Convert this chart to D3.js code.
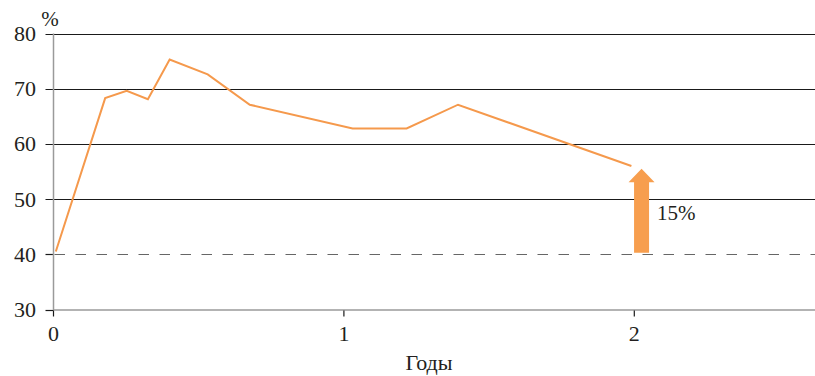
<!DOCTYPE html>
<html>
<head>
<meta charset="utf-8">
<script src="https://cdn.jsdelivr.net/npm/d3@7"></script>
<style>
  body { margin: 0; background: #fff; }
  svg { display: block; }
  svg text { font-family: "Liberation Serif", serif; fill: #231f20; }
</style>
</head>
<body>
<svg id="chart" width="815" height="376"></svg>
<script>
// Data
const years  = [0.008, 0.178, 0.252, 0.325, 0.400, 0.531, 0.676, 1.03, 1.216, 1.393, 1.99];
const values = [40.5, 68.3, 69.6, 68.1, 75.3, 72.6, 67.1, 62.8, 62.8, 67.1, 56.0];
const yTicks = [30, 40, 50, 60, 70, 80];
const xTicks = [0, 1, 2];
const baseline = 40;
const arrowX = 2.025;
const arrowFrom = 40.3;
const arrowTo = 55.5;
const arrowLabel = "15%";
const xTitle = "Годы";
const yTitle = "%";

(function () {
const svg = d3.select("#chart");
const mLeft = 53.5, mTop = 33.5, mBottom = 309.5, mRight = 815;
const x = d3.scaleLinear().domain([0, 2]).range([mLeft, 634.3]);
const y = d3.scaleLinear().domain([30, 80]).range([mBottom, mTop]);

svg.append("g").selectAll("line")
  .data(yTicks.filter(d => d !== 30 && d !== baseline))
  .join("line")
  .attr("x1", 45.5).attr("x2", mRight)
  .attr("y1", d => Math.round(y(d)) + 0.5).attr("y2", d => Math.round(y(d)) + 0.5)
  .attr("stroke", "#1a1a1a").attr("stroke-width", 1.2);

svg.append("g").selectAll("line")
  .data([30, baseline])
  .join("line")
  .attr("x1", 45.5).attr("x2", mLeft)
  .attr("y1", d => Math.round(y(d)) + 0.5).attr("y2", d => Math.round(y(d)) + 0.5)
  .attr("stroke", "#1a1a1a").attr("stroke-width", 1.2);

svg.append("line")
  .attr("x1", mLeft + 1).attr("x2", mRight)
  .attr("y1", Math.round(y(baseline)) + 0.5).attr("y2", Math.round(y(baseline)) + 0.5)
  .attr("stroke", "#666").attr("stroke-width", 1.2)
  .attr("stroke-dasharray", "10.5,10.5");

svg.append("line")
  .attr("x1", mLeft).attr("x2", mLeft)
  .attr("y1", mTop).attr("y2", mBottom + 0.5)
  .attr("stroke", "#9a9a9a").attr("stroke-width", 1.5);

svg.append("line")
  .attr("x1", mLeft).attr("x2", mRight)
  .attr("y1", mBottom + 0.5).attr("y2", mBottom + 0.5)
  .attr("stroke", "#9a9a9a").attr("stroke-width", 1.5);

svg.append("g").selectAll("line")
  .data(xTicks).join("line")
  .attr("x1", d => x(d)).attr("x2", d => x(d))
  .attr("y1", mBottom + 1).attr("y2", mBottom + 7)
  .attr("stroke", "#1a1a1a").attr("stroke-width", 1.2);

svg.append("g").selectAll("text")
  .data(yTicks).join("text")
  .attr("x", 36).attr("y", d => y(d) + 7.5)
  .attr("text-anchor", "end")
  .attr("font-size", 22)
  .text(d => d);

svg.append("g").selectAll("text")
  .data(xTicks).join("text")
  .attr("x", d => x(d)).attr("y", 340.5)
  .attr("text-anchor", "middle")
  .attr("font-size", 22)
  .text(d => d);

svg.append("text").attr("x", 429).attr("y", 370).attr("text-anchor", "middle")
  .attr("font-size", 22).text(xTitle);
svg.append("text").attr("x", 50).attr("y", 26).attr("text-anchor", "middle")
  .attr("font-size", 21).text(yTitle);

const line = d3.line().x((d, i) => x(years[i])).y(d => y(d));
svg.append("path")
  .datum(values)
  .attr("d", line)
  .attr("fill", "none")
  .attr("stroke", "#f5994c")
  .attr("stroke-width", 2)
  .attr("stroke-linejoin", "miter");

const ax = x(arrowX);
const yTip = y(arrowTo), yBase = y(arrowFrom);
const headH = 13.5, headW = 13, shaftW = 7.5;
const arrowPath = [
  [ax - shaftW, yBase], [ax - shaftW, yTip + headH], [ax - headW, yTip + headH],
  [ax, yTip], [ax + headW, yTip + headH], [ax + shaftW, yTip + headH], [ax + shaftW, yBase]
];
svg.append("path")
  .attr("d", "M" + arrowPath.map(p => p.join(",")).join("L") + "Z")
  .attr("fill", "#f79e4e");

svg.append("text")
  .attr("x", ax + 15.5).attr("y", 220)
  .attr("font-size", 21)
  .text(arrowLabel);
})();
</script>
</body>
</html>
